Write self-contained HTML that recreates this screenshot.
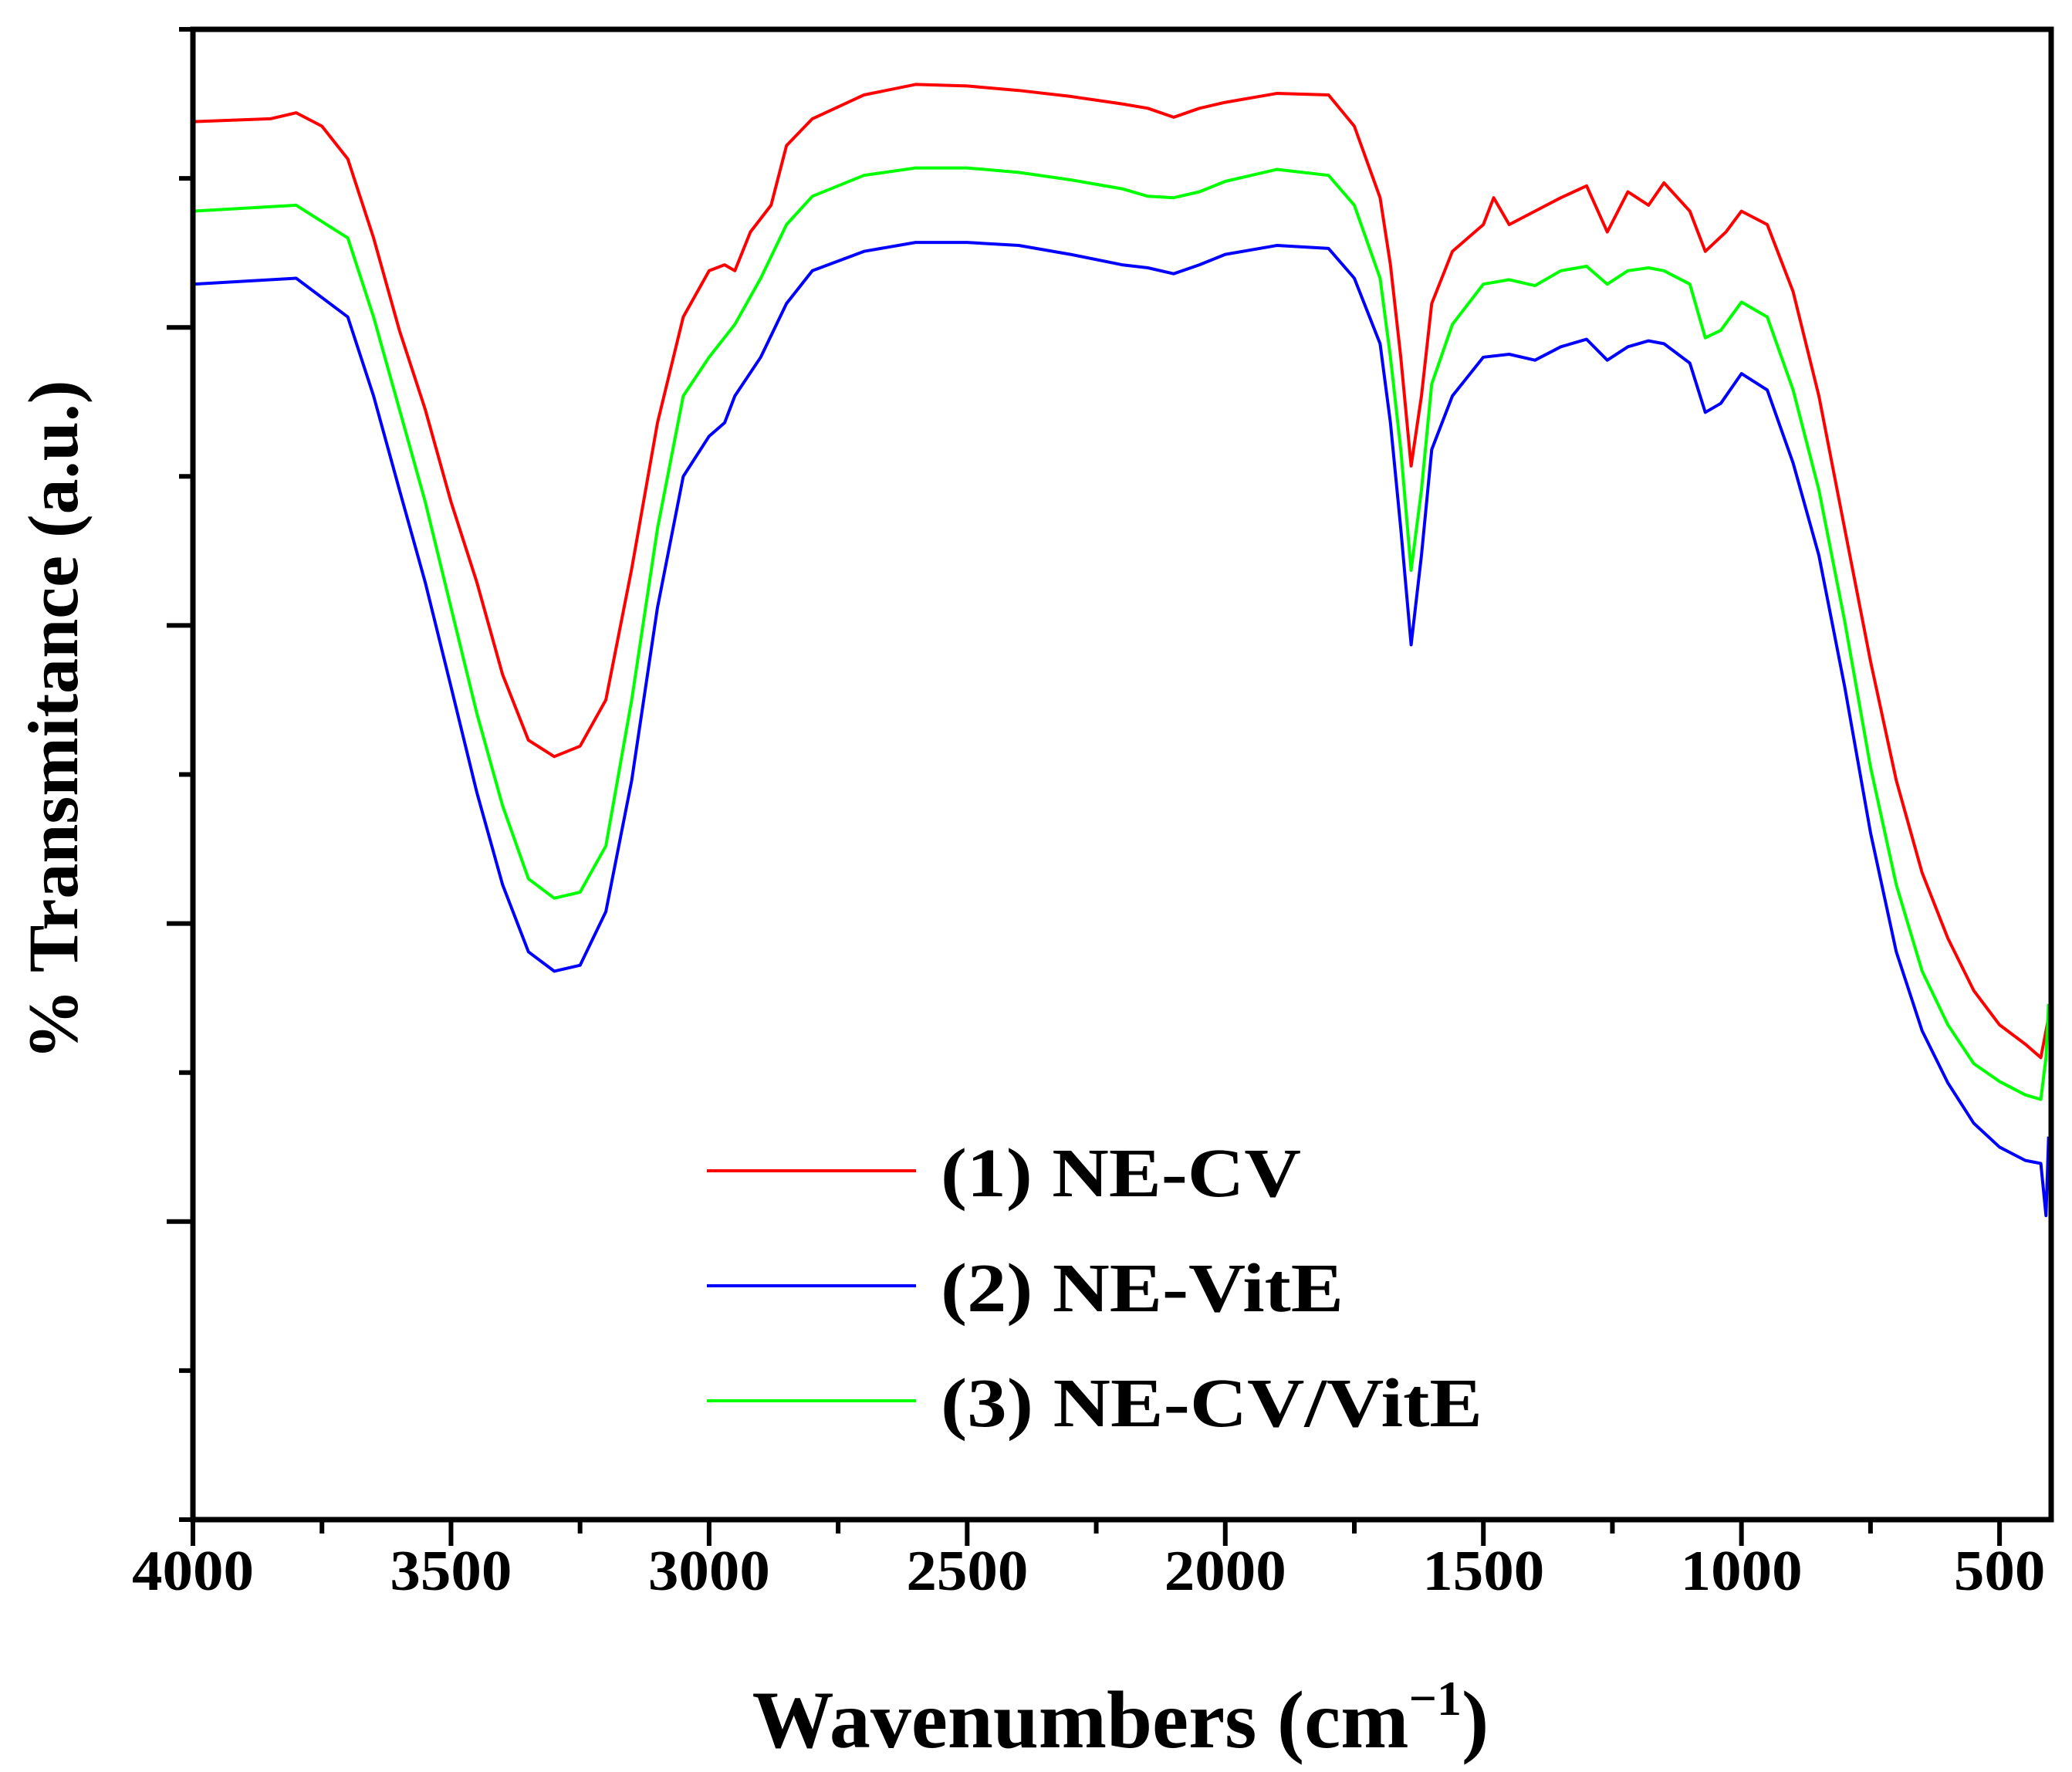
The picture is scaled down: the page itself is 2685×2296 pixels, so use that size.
<!DOCTYPE html>
<html><head><meta charset="utf-8"><style>html,body{margin:0;padding:0;background:#fff}svg{display:block}</style></head>
<body>
<svg id="chart" width="2685" height="2296" viewBox="0 0 2685 2296" xmlns="http://www.w3.org/2000/svg" font-family="'Liberation Serif', serif" font-weight="bold">
<g id="series"></g>
<rect x="250" y="38" width="2408" height="1931" fill="none" stroke="#000" stroke-width="7"/>
<g id="xticks"></g>
<g id="yticks"></g>
<text x="1452" y="2264" font-size="106" text-anchor="middle">Wavenumbers (cm<tspan dy="-42" font-size="64">−1</tspan><tspan dy="42">)</tspan></text>
<text transform="translate(100,933) rotate(-90)" font-size="92" text-anchor="middle">% Transmitance (a.u.)</text>
<g>
<line x1="916" y1="1517" x2="1187" y2="1517" stroke="#ff0000" stroke-width="4"/>
<text x="1219" y="1550" font-size="90" textLength="467" lengthAdjust="spacingAndGlyphs">(1) NE-CV</text>
<line x1="916" y1="1666" x2="1187" y2="1666" stroke="#0000ff" stroke-width="4"/>
<text x="1219" y="1699" font-size="90" textLength="522" lengthAdjust="spacingAndGlyphs">(2) NE-VitE</text>
<line x1="916" y1="1815" x2="1187" y2="1815" stroke="#00ff00" stroke-width="4"/>
<text x="1219" y="1848" font-size="90" textLength="702" lengthAdjust="spacingAndGlyphs">(3) NE-CV/VitE</text>
</g>
</svg>
<script>
const xTickLabels = [4000, 3500, 3000, 2500, 2000, 1500, 1000, 500];
const yTicks = [0,10,20,30,40,50,60,70,80,90,100];
const redX = [4000,3850,3800,3750,3700,3650,3600,3550,3500,3450,3400,3350,3300,3250,3200,3150,3100,3050,3000,2970,2950,2920,2880,2850,2800,2700,2600,2500,2400,2300,2200,2150,2100,2050,2000,1900,1800,1750,1700,1680,1660,1640,1620,1600,1560,1500,1480,1450,1400,1350,1300,1260,1220,1180,1150,1100,1070,1030,1000,950,900,850,800,750,700,650,600,550,500,450,420,405];
const redY = [93.8,94.0,94.4,93.5,91.3,86.0,79.8,74.5,68.3,62.9,56.7,52.3,51.2,51.9,55.0,63.8,73.6,80.7,83.8,84.2,83.8,86.4,88.2,92.2,94.0,95.6,96.3,96.2,95.9,95.5,95.0,94.7,94.1,94.7,95.1,95.7,95.6,93.5,88.7,84.2,78.0,70.7,75.4,81.6,85.1,86.9,88.7,86.9,87.8,88.7,89.5,86.4,89.1,88.2,89.7,87.8,85.1,86.4,87.8,86.9,82.4,75.4,66.5,57.6,49.6,43.4,39.0,35.5,33.2,31.9,31.0,33.7];
const blueX = [4000,3800,3700,3650,3600,3550,3500,3450,3400,3350,3300,3250,3200,3150,3100,3050,3000,2970,2950,2900,2850,2800,2700,2600,2500,2400,2300,2200,2150,2100,2050,2000,1900,1800,1750,1700,1680,1660,1640,1620,1600,1560,1500,1450,1400,1350,1300,1260,1220,1180,1150,1100,1070,1040,1000,950,900,850,800,750,700,650,600,550,500,450,420,410,405];
const blueY = [82.9,83.3,80.7,75.4,69.1,62.9,55.9,48.8,42.6,38.1,36.8,37.2,40.8,49.6,61.2,70.0,72.7,73.6,75.4,78.0,81.6,83.8,85.1,85.7,85.7,85.5,84.9,84.2,84.0,83.6,84.2,84.9,85.5,85.3,83.3,78.9,73.6,66.5,58.7,64.7,71.8,75.4,78.0,78.2,77.8,78.7,79.2,77.8,78.7,79.1,78.9,77.6,74.3,74.9,76.9,75.8,70.9,64.7,55.9,46.1,38.1,32.8,29.3,26.6,25.0,24.1,23.9,20.4,25.7];
const greenX = [4000,3800,3700,3650,3600,3550,3500,3450,3400,3350,3300,3250,3200,3150,3100,3050,3000,2950,2900,2850,2800,2700,2600,2500,2400,2300,2200,2150,2100,2050,2000,1900,1800,1750,1700,1680,1660,1640,1620,1600,1560,1500,1450,1400,1350,1300,1260,1220,1180,1150,1100,1070,1040,1000,950,900,850,800,750,700,650,600,550,500,450,420,410,405];
const greenY = [87.8,88.2,86.0,80.7,74.5,68.3,61.2,54.1,47.9,43.0,41.7,42.1,45.2,55.0,66.5,75.4,78.0,80.2,83.3,86.9,88.8,90.2,90.7,90.7,90.4,89.9,89.3,88.8,88.7,89.1,89.8,90.6,90.2,88.2,83.3,78.0,71.8,63.7,69.1,76.2,80.2,82.9,83.2,82.8,83.8,84.1,82.9,83.8,84.0,83.8,82.9,79.3,79.8,81.7,80.7,75.8,69.1,60.3,50.5,42.6,36.8,33.2,30.6,29.4,28.5,28.2,31.0,34.6];

const X0=250, X1=2658, Y0=1969, Y1=38;
function xs(v){ return X0 + (4000 - v) / 3600 * (X1 - X0); }
function ys(v){ return Y0 - v / 100 * (Y0 - Y1); }
const NS='http://www.w3.org/2000/svg';
function mk(tag, attrs){ const e=document.createElementNS(NS,tag); for(const k in attrs) e.setAttribute(k,attrs[k]); return e; }

const sg=document.getElementById('series');
function drawSeries(xArr, yArr, color, name){
  let d='';
  for(let i=0;i<xArr.length;i++){ d += (i?'L':'M') + xs(xArr[i]).toFixed(1) + ',' + ys(yArr[i]).toFixed(1); }
  const p=mk('path',{d:d,fill:'none',stroke:color,'stroke-width':4,'stroke-linejoin':'round'});
  
  
  sg.appendChild(p);
}
drawSeries(redX, redY, '#ff0000', 'series-ne-cv');
drawSeries(greenX, greenY, '#00ff00', 'series-ne-cv-vite');
drawSeries(blueX, blueY, '#0000ff', 'series-ne-vite');

const xg=document.getElementById('xticks');
for(let v=4000; v>=500; v-=250){
  const major = (v % 500 === 0);
  const t=mk('line',{x1:xs(v),x2:xs(v),y1:Y0,y2:Y0+(major?34:18),stroke:'#000','stroke-width':6});
  
  
  xg.appendChild(t);
}
xTickLabels.forEach(v=>{
  const t=mk('text',{x:xs(v),y:2060,'font-size':74,'text-anchor':'middle',textLength:(String(v).length*39.5),lengthAdjust:'spacingAndGlyphs'});
  t.textContent=v;
  
  
  xg.appendChild(t);
});
const yg=document.getElementById('yticks');
yTicks.forEach(v=>{
  const major = (v===20||v===40||v===60||v===80);
  const t=mk('line',{x1:X0-(major?34:18),x2:X0,y1:ys(v),y2:ys(v),stroke:'#000','stroke-width':6});
  
  
  yg.appendChild(t);
});
</script>
</body></html>
